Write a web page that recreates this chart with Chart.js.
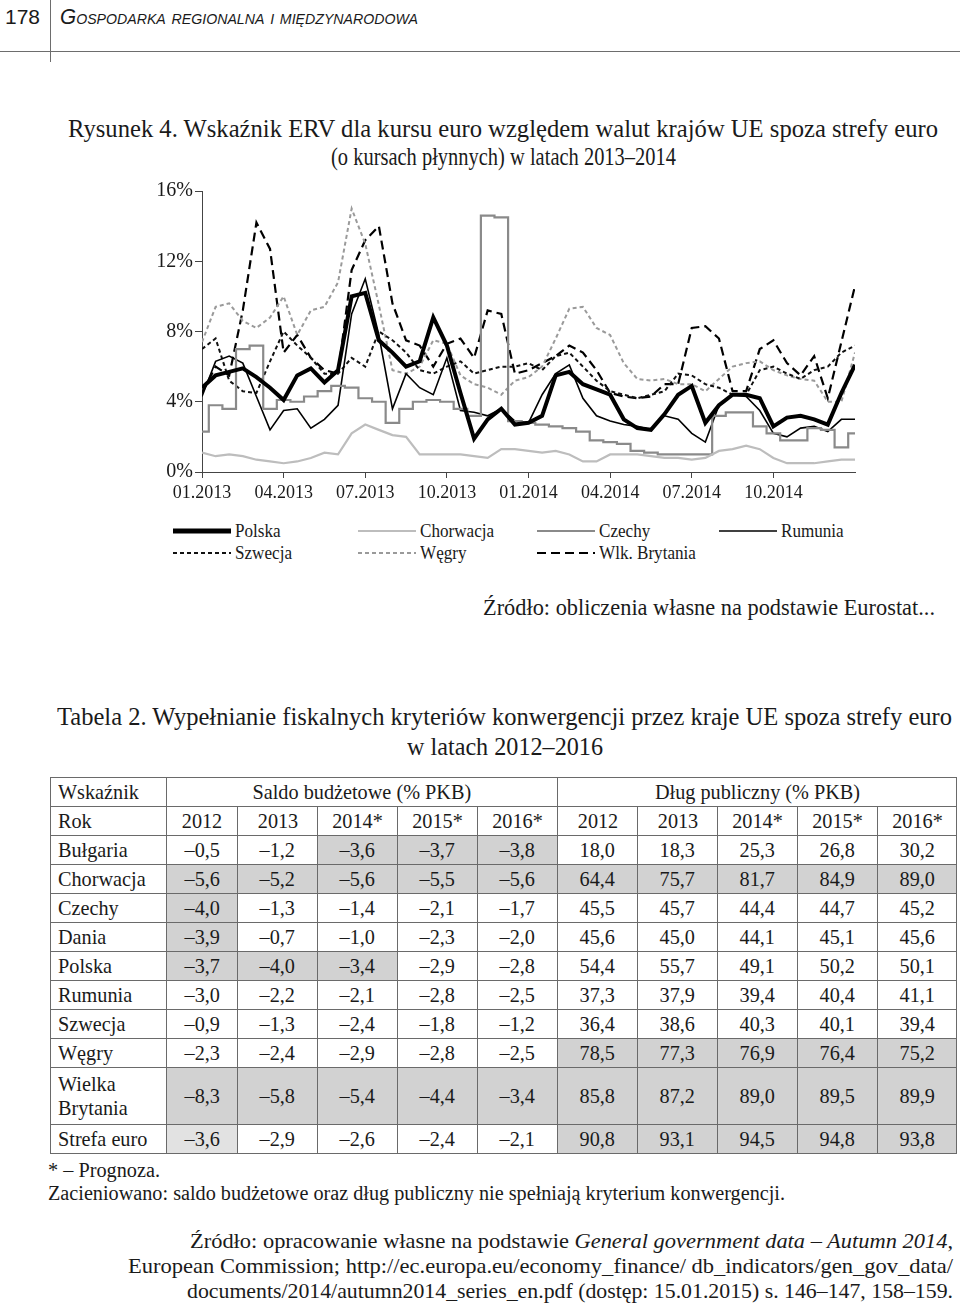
<!DOCTYPE html>
<html lang="pl">
<head>
<meta charset="utf-8">
<title>Rysunek 4. Wskaźnik ERV</title>
<script src="https://cdn.jsdelivr.net/npm/chart.js@4.4.1/dist/chart.umd.min.js"></script>
<style>
  body { margin: 0; background: #fff; }
  #page { position: relative; width: 960px; height: 1310px; overflow: hidden;
          font-family: "Liberation Serif", "Times New Roman", serif; color: #1a1a1a; }
  .fit { position: absolute; white-space: nowrap; line-height: 1; transform-origin: 0 50%; }
  .sans { font-family: "Liberation Sans", Arial, sans-serif; }
  .rule { position: absolute; background: #6d6d6d; }
  #chartBox { position: absolute; left: 100px; top: 170px; width: 780px; height: 340px; }
  #legend { position: absolute; left: 0; top: 0; }
  .lg { position: absolute; height: 20px; }
  .lg svg { position: absolute; left: 0; top: 0; }
  .lg span { position: absolute; top: 0; font-size: 19px; line-height: 20px; white-space: nowrap;
             transform: scaleX(0.9); transform-origin: 0 50%; }
  #tab { position: absolute; left: 50px; top: 777px; border-collapse: collapse; table-layout: fixed;
         width: 906px; font-size: 22px; }
  #tab td { border: 1px solid #6a6a6a; padding: 0; text-align: center; line-height: 1.1; }
  #tab td.lab { text-align: left; padding-left: 7px; }
  #tab td span { display: inline-block; transform: scaleX(0.92); }
  #tab td.lab span { transform-origin: 0 50%; }
  #tab td.s1 { background: #d2d2d2; }
  #tab td.s2 { background: #e2e2e2; }
</style>
</head>
<body>
<div id="page">
  <div class="fit sans" style="left:5px;top:7px;font-size:20px;" data-w="35">178</div>
  <div class="rule" style="left:50px;top:0;width:1px;height:62px;"></div>
  <div class="fit sans" style="left:60px;top:6px;font-size:22px;font-style:italic;font-variant:small-caps;" data-w="358">Gospodarka regionalna i międzynarodowa</div>
  <div class="rule" style="left:0;top:51px;width:960px;height:1px;"></div>

  <div class="fit" style="left:68px;top:116px;font-size:25px;" data-w="870">Rysunek 4. Wskaźnik ERV dla kursu euro względem walut krajów UE spoza strefy euro</div>
  <div class="fit" style="left:331px;top:144px;font-size:25px;" data-w="345">(o kursach płynnych) w latach 2013–2014</div>

  <div id="chartBox"><canvas id="ervChart" width="780" height="340"></canvas></div>
  <div id="legend"></div>

  <div class="fit" style="left:483px;top:596px;font-size:23px;" data-w="452">Źródło: obliczenia własne na podstawie Eurostat...</div>

  <div class="fit" style="left:57px;top:704px;font-size:25px;" data-w="895">Tabela 2. Wypełnianie fiskalnych kryteriów konwergencji przez kraje UE spoza strefy euro</div>
  <div class="fit" style="left:407px;top:734px;font-size:25px;" data-w="196">w latach 2012–2016</div>

  <table id="tab"></table>

  <div class="fit" style="left:48px;top:1160px;font-size:20px;" data-w="112">* – Prognoza.</div>
  <div class="fit" style="left:48px;top:1183px;font-size:20px;" data-w="737">Zacieniowano: saldo budżetowe oraz dług publiczny nie spełniają kryterium konwergencji.</div>

  <div class="fit" style="left:190px;top:1230px;font-size:22px;" data-w="763">Źródło: opracowanie własne na podstawie <i>General government data – Autumn 2014</i>,</div>
  <div class="fit" style="left:128px;top:1255px;font-size:22px;" data-w="825">European Commission; http://ec.europa.eu/economy_finance/ db_indicators/gen_gov_data/</div>
  <div class="fit" style="left:187px;top:1280px;font-size:22px;" data-w="766">documents/2014/autumn2014_series_en.pdf (dostęp: 15.01.2015) s. 146–147, 158–159.</div>
</div>

<script>
// months since 01.2013, half-month steps
const months = [0, 0.5, 1, 1.5, 2, 2.5, 3, 3.5, 4, 4.5, 5, 5.5, 6, 6.5, 7, 7.5, 8, 8.5, 9, 9.5,
  10, 10.5, 11, 11.5, 12, 12.5, 13, 13.5, 14, 14.5, 15, 15.5, 16, 16.5, 17, 17.5, 18, 18.5, 19, 19.5,
  20, 20.5, 21, 21.5, 22, 22.5, 23, 23.5, 24];

const tickMonths = [0, 3, 6, 9, 12, 15, 18, 21];
const tickLabels = ['01.2013', '04.2013', '07.2013', '10.2013', '01.2014', '04.2014', '07.2014', '10.2014'];
const yTicks = [0, 4, 8, 12, 16];

// ERV (%)
const polska = [4.8, 5.5, 5.7, 5.9, 5.4, 4.8, 4.1, 5.5, 5.9, 5.1, 5.8, 10.0, 10.2, 7.5, 6.8, 6.0, 6.3, 8.8, 7.2, 4.5,
  1.9, 3.0, 3.6, 2.7, 2.8, 3.2, 5.5, 5.7, 5.0, 4.7, 4.4, 3.0, 2.5, 2.4, 3.3, 4.4, 4.9, 2.8, 3.8, 4.4,
  4.4, 4.2, 2.6, 3.1, 3.2, 3.0, 2.7, 4.5, 6.1];
const chorwacja = [1.1, 0.9, 1.0, 0.9, 0.7, 0.6, 0.5, 0.6, 0.8, 1.1, 1.0, 2.2, 2.7, 2.4, 2.1, 2.0, 1.0, 1.0, 1.0, 1.0,
  0.9, 0.8, 1.3, 1.3, 1.2, 1.1, 1.2, 1.0, 0.6, 0.6, 1.0, 1.0, 1.0, 0.9, 0.8, 0.8, 0.7, 0.8, 1.2, 1.3,
  1.5, 1.3, 0.8, 0.5, 0.5, 0.5, 0.6, 0.7, 0.7];
const czechy = [2.3, 3.8, 3.6, 7.0, 7.2, 3.6, 4.1, 4.0, 4.3, 4.6, 4.9, 4.8, 4.2, 4.0, 2.8, 3.6, 4.0, 4.1, 4.0, 3.6,
  3.2, 14.6, 14.5, 2.9, 2.8, 2.7, 2.6, 2.5, 2.3, 1.8, 1.7, 1.6, 1.2, 1.1, 1.0, 1.0, 1.0, 1.0, 3.2, 3.4,
  3.4, 2.6, 2.2, 1.8, 1.8, 2.5, 2.4, 1.4, 2.2];
const rumunia = [4.3, 6.3, 6.6, 6.2, 4.3, 2.4, 3.5, 3.6, 2.5, 3.0, 3.8, 9.0, 11.0, 7.8, 3.6, 5.6, 4.8, 4.4, 6.5, 3.5,
  3.4, 3.2, 3.6, 2.9, 2.8, 4.4, 5.6, 6.1, 4.2, 3.2, 2.9, 2.7, 2.6, 2.4, 3.2, 3.0, 2.2, 1.7, 3.8, 4.4,
  4.3, 3.5, 2.2, 2.0, 2.5, 2.6, 2.3, 3.0, 3.0];
const szwecja = [7.0, 7.6, 5.2, 4.6, 4.5, 6.3, 8.0, 7.2, 6.5, 5.6, 5.6, 6.5, 6.0, 8.0, 7.5, 6.8, 5.8, 5.6, 6.0, 6.3,
  5.6, 5.8, 6.0, 6.0, 6.2, 5.8, 6.6, 6.8, 6.0, 5.2, 4.6, 4.4, 4.2, 4.4, 4.6, 5.6, 5.5, 5.0, 4.8, 4.4,
  4.4, 5.8, 6.0, 5.6, 5.3, 5.8, 6.0, 6.8, 7.2];
const wegry = [7.4, 9.4, 9.6, 8.6, 8.2, 8.8, 10.0, 7.8, 9.2, 9.4, 10.8, 15.0, 13.0, 9.5, 5.8, 5.6, 6.0, 7.5, 7.3, 5.5,
  5.0, 4.8, 4.4, 5.2, 5.4, 6.0, 7.6, 9.3, 9.4, 8.2, 7.8, 6.2, 5.3, 5.2, 5.3, 5.0, 5.0, 4.6, 5.3, 6.0,
  6.2, 6.3, 5.8, 5.5, 5.3, 5.2, 4.0, 4.0, 6.8];
const wlkBrytania = [4.5, 6.0, 5.5, 9.2, 14.2, 12.7, 6.8, 7.8, 6.5, 5.8, 5.6, 11.5, 13.2, 14.0, 9.6, 7.5, 7.2, 6.0, 7.3, 7.6,
  6.5, 9.2, 9.0, 5.6, 5.8, 6.2, 6.6, 7.2, 6.8, 5.8, 4.5, 4.3, 4.2, 4.3, 5.0, 5.0, 8.2, 8.3, 7.6, 4.6,
  4.6, 7.0, 7.5, 6.2, 5.5, 6.6, 4.2, 7.4, 10.6];

// table 2
const years = ['2012', '2013', '2014*', '2015*', '2016*'];
const countries = ['Bułgaria', 'Chorwacja', 'Czechy', 'Dania', 'Polska', 'Rumunia', 'Szwecja', 'Węgry', 'Wielka<br>Brytania', 'Strefa euro'];
const saldo = [
  ['–0,5', '–1,2', '–3,6', '–3,7', '–3,8'],
  ['–5,6', '–5,2', '–5,6', '–5,5', '–5,6'],
  ['–4,0', '–1,3', '–1,4', '–2,1', '–1,7'],
  ['–3,9', '–0,7', '–1,0', '–2,3', '–2,0'],
  ['–3,7', '–4,0', '–3,4', '–2,9', '–2,8'],
  ['–3,0', '–2,2', '–2,1', '–2,8', '–2,5'],
  ['–0,9', '–1,3', '–2,4', '–1,8', '–1,2'],
  ['–2,3', '–2,4', '–2,9', '–2,8', '–2,5'],
  ['–8,3', '–5,8', '–5,4', '–4,4', '–3,4'],
  ['–3,6', '–2,9', '–2,6', '–2,4', '–2,1']];
const dlug = [
  ['18,0', '18,3', '25,3', '26,8', '30,2'],
  ['64,4', '75,7', '81,7', '84,9', '89,0'],
  ['45,5', '45,7', '44,4', '44,7', '45,2'],
  ['45,6', '45,0', '44,1', '45,1', '45,6'],
  ['54,4', '55,7', '49,1', '50,2', '50,1'],
  ['37,3', '37,9', '39,4', '40,4', '41,1'],
  ['36,4', '38,6', '40,3', '40,1', '39,4'],
  ['78,5', '77,3', '76,9', '76,4', '75,2'],
  ['85,8', '87,2', '89,0', '89,5', '89,9'],
  ['90,8', '93,1', '94,5', '94,8', '93,8']];
// 1 = shaded, 2 = light shade
const saldoShade = [[0,0,1,1,1],[1,1,1,1,1],[1,0,0,0,0],[1,0,0,0,0],[1,1,1,0,0],[0,0,0,0,0],[0,0,0,0,0],[0,0,0,0,0],[1,1,1,1,1],[2,0,0,0,0]];
const dlugShade = [[0,0,0,0,0],[1,1,1,1,1],[0,0,0,0,0],[0,0,0,0,0],[0,0,0,0,0],[0,0,0,0,0],[0,0,0,0,0],[1,1,1,1,1],[1,1,1,1,1],[1,1,1,1,1]];

const seriesDefs = [
  { label: 'Polska', values: polska, color: '#000', width: 4, dash: [] },
  { label: 'Chorwacja', values: chorwacja, color: '#bdbdbd', width: 2.2, dash: [] },
  { label: 'Czechy', values: czechy, color: '#8a8a8a', width: 2.2, dash: [], stepped: 'middle' },
  { label: 'Rumunia', values: rumunia, color: '#000', width: 1.6, dash: [] },
  { label: 'Szwecja', values: szwecja, color: '#111', width: 2, dash: [4, 3] },
  { label: 'Węgry', values: wegry, color: '#9a9a9a', width: 2, dash: [4, 3] },
  { label: 'Wlk. Brytania', values: wlkBrytania, color: '#000', width: 2.2, dash: [9, 5] }
];
// legend slot per series: line start x, row centre y
const legendSlots = [[173, 531], [358, 531], [537, 531], [719, 531], [173, 553], [358, 553], [537, 553]];

function createErvChart() {
  const ctx = document.getElementById('ervChart');
  const tickFont = { family: 'Liberation Serif', size: 18 };
  return new Chart(ctx, {
    type: 'line',
    data: {
      datasets: seriesDefs.map(s => ({
        label: s.label,
        data: months.map((m, i) => ({ x: m, y: s.values[i] })),
        borderColor: s.color,
        borderWidth: s.width,
        borderDash: s.dash,
        stepped: s.stepped || false,
        pointRadius: 0,
        tension: 0,
        fill: false
      }))
    },
    options: {
      responsive: false,
      animation: false,
      layout: { padding: { top: 21, right: 25, left: 0, bottom: 0 } },
      plugins: { legend: { display: false }, tooltip: { enabled: false } },
      scales: {
        x: {
          type: 'linear', min: 0, max: 24,
          afterBuildTicks: s => { s.ticks = tickMonths.map(v => ({ value: v })); },
          afterFit: s => { s.height = 38; },
          ticks: { autoSkip: false, maxRotation: 0, padding: 4, color: '#1a1a1a', font: tickFont,
                   callback: (v, i) => tickLabels[i] },
          grid: { drawOnChartArea: false, drawTicks: true, tickLength: 6, color: '#444' },
          border: { display: true, color: '#444', width: 1 }
        },
        y: {
          min: 0, max: 16,
          afterBuildTicks: s => { s.ticks = yTicks.map(v => ({ value: v })); },
          afterFit: s => { s.width = 102; },
          ticks: { padding: 2, color: '#1a1a1a', font: { family: 'Liberation Serif', size: 20 }, callback: v => v + '%' },
          grid: { drawOnChartArea: false, drawTicks: true, tickLength: 7, color: '#444' },
          border: { display: true, color: '#444', width: 1 }
        }
      }
    }
  });
}

function buildLegend(chart) {
  const box = document.getElementById('legend');
  chart.data.datasets.forEach((ds, i) => {
    const [x, y] = legendSlots[i];
    const len = 58;
    const item = document.createElement('div');
    item.className = 'lg';
    item.style.left = x + 'px';
    item.style.top = (y - 10) + 'px';
    const lw = ds.label === 'Polska' ? 5 : ds.borderWidth;
    item.innerHTML =
      '<svg width="' + len + '" height="20"><line x1="0" y1="10" x2="' + len + '" y2="10" stroke="' + ds.borderColor +
      '" stroke-width="' + lw + '" stroke-dasharray="' + (ds.borderDash.join(' ') || 'none') + '"/></svg>' +
      '<span style="left:' + (len + 4) + 'px">' + ds.label + '</span>';
    box.appendChild(item);
  });
}

function buildTable() {
  const tab = document.getElementById('tab');
  const widths = [116, 71, 80, 80, 80, 80, 80, 80, 80, 80, 79];
  let html = '<colgroup>' + widths.map(w => '<col style="width:' + w + 'px">').join('') + '</colgroup>';
  html += '<tr style="height:29px"><td class="lab"><span>Wskaźnik</span></td>' +
          '<td colspan="5"><span>Saldo budżetowe (% PKB)</span></td>' +
          '<td colspan="5"><span>Dług publiczny (% PKB)</span></td></tr>';
  html += '<tr style="height:29px"><td class="lab"><span>Rok</span></td>' +
          years.concat(years).map(y => '<td><span>' + y + '</span></td>').join('') + '</tr>';
  countries.forEach((c, r) => {
    const h = c.indexOf('<br>') >= 0 ? 57 : 29;
    const cell = (v, s) => '<td class="' + (s === 1 ? 's1' : s === 2 ? 's2' : '') + '"><span>' + v + '</span></td>';
    html += '<tr style="height:' + h + 'px"><td class="lab"><span>' + c + '</span></td>' +
            saldo[r].map((v, k) => cell(v, saldoShade[r][k])).join('') +
            dlug[r].map((v, k) => cell(v, dlugShade[r][k])).join('') + '</tr>';
  });
  tab.innerHTML = html;
}

function fitTexts() {
  document.querySelectorAll('.fit').forEach(el => {
    const target = +el.dataset.w;
    const natural = el.getBoundingClientRect().width;
    if (natural > 0) el.style.transform = 'scaleX(' + (target / natural) + ')';
  });
}

const chart = createErvChart();
buildLegend(chart);
buildTable();
fitTexts();
</script>
</body>
</html>
